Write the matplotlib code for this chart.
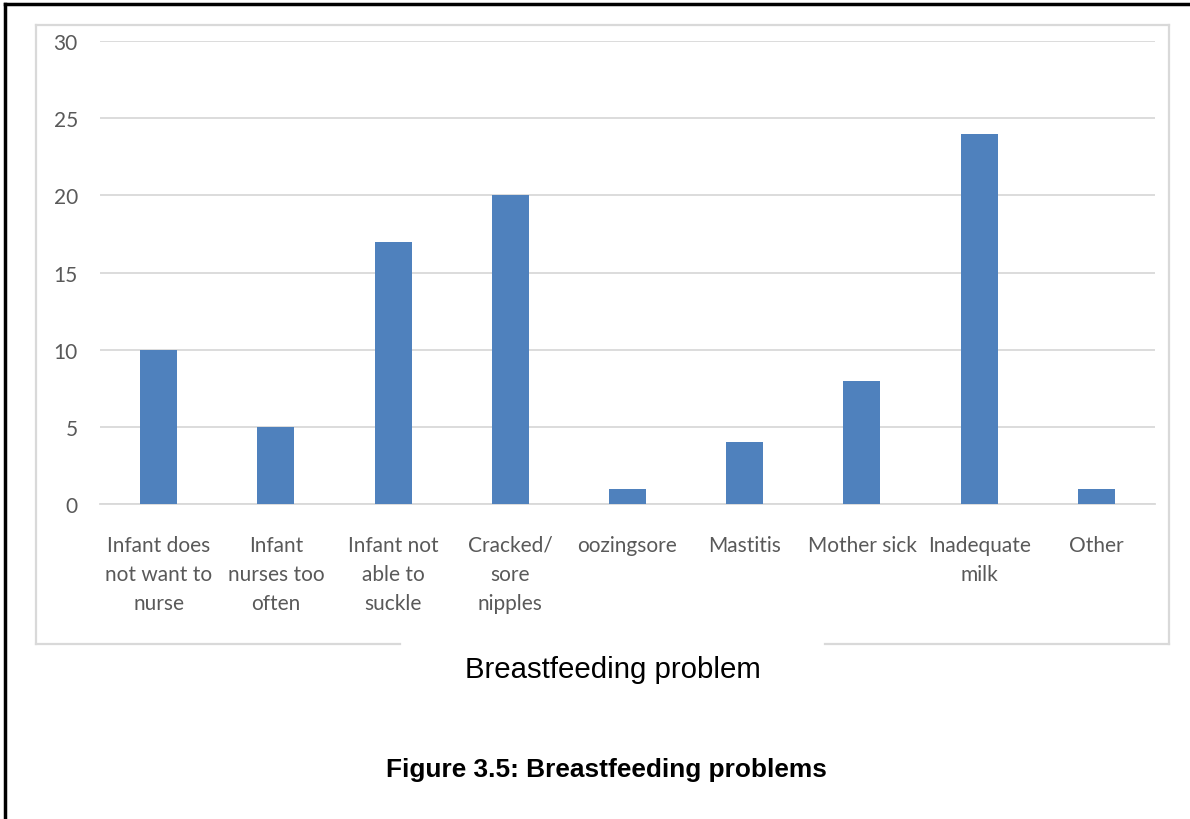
import matplotlib
matplotlib.use("Agg")
import matplotlib.pyplot as plt
from matplotlib.lines import Line2D

categories = [
    "Infant does\nnot want to\nnurse",
    "Infant\nnurses too\noften",
    "Infant not\nable to\nsuckle",
    "Cracked/\nsore\nnipples",
    "oozingsore",
    "Mastitis",
    "Mother sick",
    "Inadequate\nmilk",
    "Other",
]
counts = [10, 5, 17, 20, 1, 4, 8, 24, 1]
y_ticks = [0, 5, 10, 15, 20, 25, 30]

W, H = 1190, 820
fig = plt.figure(figsize=(W / 100, H / 100), dpi=100)

def fx(px):
    return px / W

def fy(py):
    return 1 - py / H

ax = fig.add_axes([fx(100), fy(505), fx(1155) - fx(100), fy(42) - fy(505)])
x = list(range(len(categories)))
ax.bar(x, counts, width=0.315, color="#4f81bd", zorder=3)
ax.set_xlim(-0.5, len(categories) - 0.5)
ax.set_ylim(0, 30)
ax.set_yticks(y_ticks)
ax.set_xticks(x)
ax.set_xticklabels(categories, linespacing=1.58)
ax.grid(axis="y", color="#d9d9d9", linewidth=1.3, zorder=0)
for s in ["top", "right", "left"]:
    ax.spines[s].set_visible(False)
ax.spines["bottom"].set_color("#d9d9d9")
ax.spines["bottom"].set_linewidth(1.3)
ax.tick_params(axis="both", length=0, labelcolor="#595959", labelsize=15)
ax.tick_params(axis="x", pad=22)
ax.tick_params(axis="y", pad=16)
for lab in ax.get_xticklabels() + ax.get_yticklabels():
    lab.set_fontfamily("Lato")
for lab in ax.get_xticklabels():
    lab.set_verticalalignment("top")

# chart frame, opened at the bottom for the axis title
frame = dict(color="#d9d9d9", linewidth=1.6, transform=fig.transFigure)
fig.add_artist(Line2D([fx(36), fx(36)], [fy(26), fy(645)], **frame))
fig.add_artist(Line2D([fx(36), fx(1169)], [fy(26), fy(26)], **frame))
fig.add_artist(Line2D([fx(1169), fx(1169)], [fy(26), fy(645)], **frame))
fig.add_artist(Line2D([fx(36), fx(400)], [fy(645), fy(645)], **frame))
fig.add_artist(Line2D([fx(825), fx(1169)], [fy(645), fy(645)], **frame))

# page border lines
page = dict(color="black", linewidth=2.5, transform=fig.transFigure)
fig.add_artist(Line2D([fx(5), fx(5)], [fy(5), 0], **page))
fig.add_artist(Line2D([fx(5), 1], [fy(5), fy(5)], **page))

fig.text(fx(613), fy(670), "Breastfeeding problem", ha="center", va="center",
         fontsize=21.2, family="Liberation Sans", color="black")
fig.text(fx(606), fy(770), "Figure 3.5: Breastfeeding problems", ha="center",
         va="center", fontsize=18.9, family="Liberation Sans", weight="bold",
         color="black")

fig.savefig("out.png", dpi=100)
